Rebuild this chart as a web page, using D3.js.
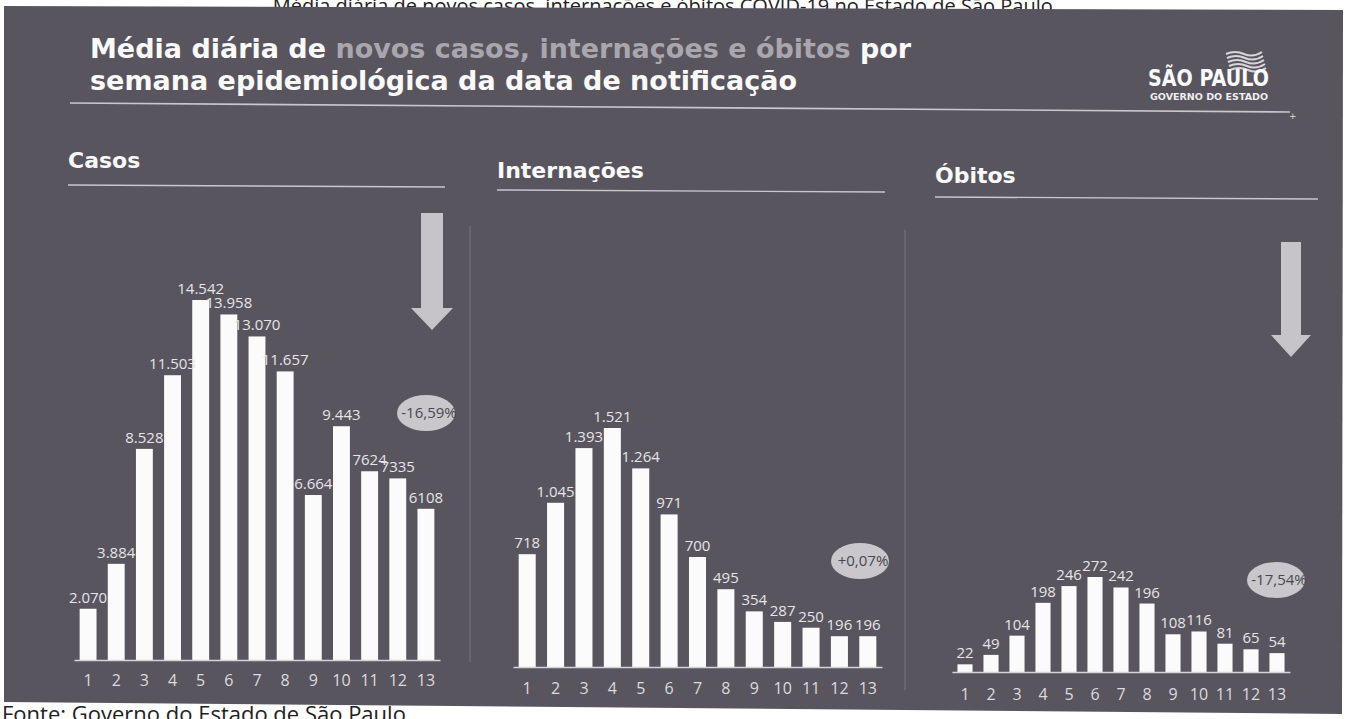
<!DOCTYPE html>
<html>
<head>
<meta charset="utf-8">
<script src="https://cdn.jsdelivr.net/npm/d3@7"></script>
<style>
  html, body { margin: 0; padding: 0; background: #fff; overflow: hidden; }
  svg { display: block; }
</style>
</head>
<body>
<svg id="chart" width="1350" height="719"></svg>
<script>
// data
const weeks = ["1", "2", "3", "4", "5", "6", "7", "8", "9", "10", "11", "12", "13"];
const casos = [2070, 3884, 8528, 11503, 14542, 13958, 13070, 11657, 6664, 9443, 7624, 7335, 6108];
const casosLabels = ["2.070", "3.884", "8.528", "11.503", "14.542", "13.958", "13.070", "11.657", "6.664", "9.443", "7624", "7335", "6108"];
const internacoes = [718, 1045, 1393, 1521, 1264, 971, 700, 495, 354, 287, 250, 196, 196];
const internacoesLabels = ["718", "1.045", "1.393", "1.521", "1.264", "971", "700", "495", "354", "287", "250", "196", "196"];
const obitos = [22, 49, 104, 198, 246, 272, 242, 196, 108, 116, 81, 65, 54];
const obitosLabels = ["22", "49", "104", "198", "246", "272", "242", "196", "108", "116", "81", "65", "54"];
const variacoes = ["-16,59%", "+0,07%", "-17,54%"];
const panelTitles = ["Casos", "Internações", "Óbitos"];

const svg = d3.select("#chart");

// caption above the slide (cut off by the scan)
svg.append("text")
   .attr("x", 1058).attr("y", 13)
   .attr("text-anchor", "end")
   .attr("font-family", "Open Sans, sans-serif")
   .attr("font-size", 20)
   .attr("fill", "#222")
   .text("Média diária de novos casos, internações e óbitos COVID-19 no Estado de São Paulo.");

// slide background (slightly skewed scan)
svg.append("polygon")
   .attr("points", "4,6 1343,10 1342,714 4,702")
   .attr("fill", "#59555e");

// footer source
svg.append("text")
   .attr("x", 2).attr("y", 722)
   .attr("font-family", "Open Sans, sans-serif")
   .attr("font-size", 22)
   .attr("fill", "#222")
   .text("Fonte: Governo do Estado de São Paulo");

// main title
const titleFont = "DejaVu Sans, sans-serif";
const t1 = svg.append("text")
              .attr("x", 90).attr("y", 58)
              .attr("font-family", titleFont)
              .attr("font-weight", "bold")
              .attr("font-size", 27)
              .attr("fill", "#fafafa");
t1.append("tspan").text("Média diária de ");
t1.append("tspan").attr("fill", "#aaa6ae").text("novos casos, internações e óbitos");
t1.append("tspan").text(" por");
svg.append("text")
   .attr("x", 90).attr("y", 90)
   .attr("font-family", titleFont)
   .attr("font-weight", "bold")
   .attr("font-size", 27)
   .attr("fill", "#fafafa")
   .text("semana epidemiológica da data de notificação");

svg.append("line")
   .attr("x1", 70).attr("y1", 103).attr("x2", 1290).attr("y2", 112)
   .attr("stroke", "#c9c6cc").attr("stroke-width", 1.6);

// logo
const logo = svg.append("g");
[52, 56, 60, 64, 68].forEach((yy, i) => {
  logo.append("path")
      .attr("d", `M${1226 + i} ${yy + 2} q9 -4 18 0 t18 -2`)
      .attr("fill", "none")
      .attr("stroke", "#d8d6da")
      .attr("stroke-width", 2);
});
logo.append("text")
    .attr("x", 1148).attr("y", 86)
    .attr("font-family", titleFont).attr("font-weight", "bold")
    .attr("font-size", 23).attr("fill", "#fafafa")
    .attr("textLength", 121).attr("lengthAdjust", "spacingAndGlyphs")
    .text("SÃO PAULO");
logo.append("text")
    .attr("x", 1150).attr("y", 100)
    .attr("font-family", titleFont).attr("font-weight", "bold")
    .attr("font-size", 8.5).attr("fill", "#eeeeee")
    .attr("textLength", 118).attr("lengthAdjust", "spacingAndGlyphs")
    .text("GOVERNO DO ESTADO");
svg.append("text")
   .attr("x", 1289).attr("y", 119)
   .attr("font-family", titleFont).attr("font-size", 9).attr("fill", "#ddd")
   .text("+");

// faint separators between panels
[[470, 226, 662], [905, 230, 690]].forEach(s => {
  svg.append("line")
     .attr("x1", s[0]).attr("y1", s[1]).attr("x2", s[0]).attr("y2", s[2])
     .attr("stroke", "#7b7780").attr("stroke-width", 1);
});

const panels = [
  {title: panelTitles[0], values: casos, labels: casosLabels, pct: variacoes[0],
   tx: 68, ty: 168, lx2: 445, ly: 185,
   xr: [74, 440], base: 660, top: 300, pad: 0.4, tickPad: 15,
   ell: [426, 413], arrow: {x: 432, y0: 213, y1: 308, tip: 330, sw: 11, hw: 21}},
  {title: panelTitles[1], values: internacoes, labels: internacoesLabels, pct: variacoes[1],
   tx: 497, ty: 178, lx2: 885, ly: 190,
   xr: [513, 882], base: 667, top: 428, pad: 0.4, tickPad: 16,
   ell: [860, 561], arrow: null},
  {title: panelTitles[2], values: obitos, labels: obitosLabels, pct: variacoes[2],
   tx: 935, ty: 183, lx2: 1318, ly: 197,
   xr: [952, 1290], base: 672, top: 577, pad: 0.42, tickPad: 17,
   ell: [1276, 580], arrow: {x: 1291, y0: 242, y1: 335, tip: 357, sw: 10, hw: 20}}
];

const labelFont = "Open Sans, sans-serif";

panels.forEach(p => {
  const g = svg.append("g");

  g.append("text")
   .attr("x", p.tx).attr("y", p.ty)
   .attr("font-family", titleFont).attr("font-weight", "bold")
   .attr("font-size", 22).attr("fill", "#fafafa")
   .text(p.title);
  g.append("line")
   .attr("x1", p.tx).attr("y1", p.ly).attr("x2", p.lx2).attr("y2", p.ly + 2)
   .attr("stroke", "#c9c6cc").attr("stroke-width", 1.4);

  const x = d3.scaleBand()
              .domain(weeks)
              .range(p.xr)
              .paddingInner(p.pad)
              .paddingOuter(p.pad / 2);
  const y = d3.scaleLinear()
              .domain([0, d3.max(p.values)])
              .range([p.base, p.top]);

  g.selectAll("rect.bar")
   .data(p.values)
   .join("rect")
   .attr("class", "bar")
   .attr("x", (d, i) => x(weeks[i]))
   .attr("y", d => y(d))
   .attr("width", x.bandwidth())
   .attr("height", d => y(0) - y(d))
   .attr("fill", "#fbfbfb");

  g.selectAll("text.val")
   .data(p.values)
   .join("text")
   .attr("class", "val")
   .attr("x", (d, i) => x(weeks[i]) + x.bandwidth() / 2)
   .attr("y", d => y(d) - 6)
   .attr("text-anchor", "middle")
   .attr("font-family", labelFont)
   .attr("font-size", 15)
   .attr("fill", "#e6e4e8")
   .text((d, i) => p.labels[i]);

  const xAxis = d3.axisBottom(x)
                  .tickSize(0)
                  .tickPadding(p.tickPad);
  const ax = g.append("g")
              .attr("transform", `translate(0,${p.base})`)
              .call(xAxis);
  ax.select(".domain")
    .attr("stroke", "#d6d4d8")
    .attr("stroke-width", 1.6);
  ax.selectAll("text")
    .attr("font-family", labelFont)
    .attr("font-size", 16)
    .attr("fill", "#dcdadf");

  // variation badge
  g.append("ellipse")
   .attr("cx", p.ell[0]).attr("cy", p.ell[1])
   .attr("rx", 29).attr("ry", 18)
   .attr("fill", "#c9c7cb");
  g.append("text")
   .attr("x", p.ell[0] + 3).attr("y", p.ell[1] + 5)
   .attr("text-anchor", "middle")
   .attr("font-family", labelFont)
   .attr("font-size", 15)
   .attr("fill", "#4a4750")
   .text(p.pct);

  // down arrow
  if (p.arrow) {
    const a = p.arrow;
    g.append("path")
     .attr("d", `M${a.x - a.sw} ${a.y0} L${a.x + a.sw} ${a.y0} L${a.x + a.sw} ${a.y1}
                 L${a.x + a.hw} ${a.y1} L${a.x} ${a.tip} L${a.x - a.hw} ${a.y1}
                 L${a.x - a.sw} ${a.y1} Z`)
     .attr("fill", "#c6c4c8");
  }
});
</script>
</body>
</html>
